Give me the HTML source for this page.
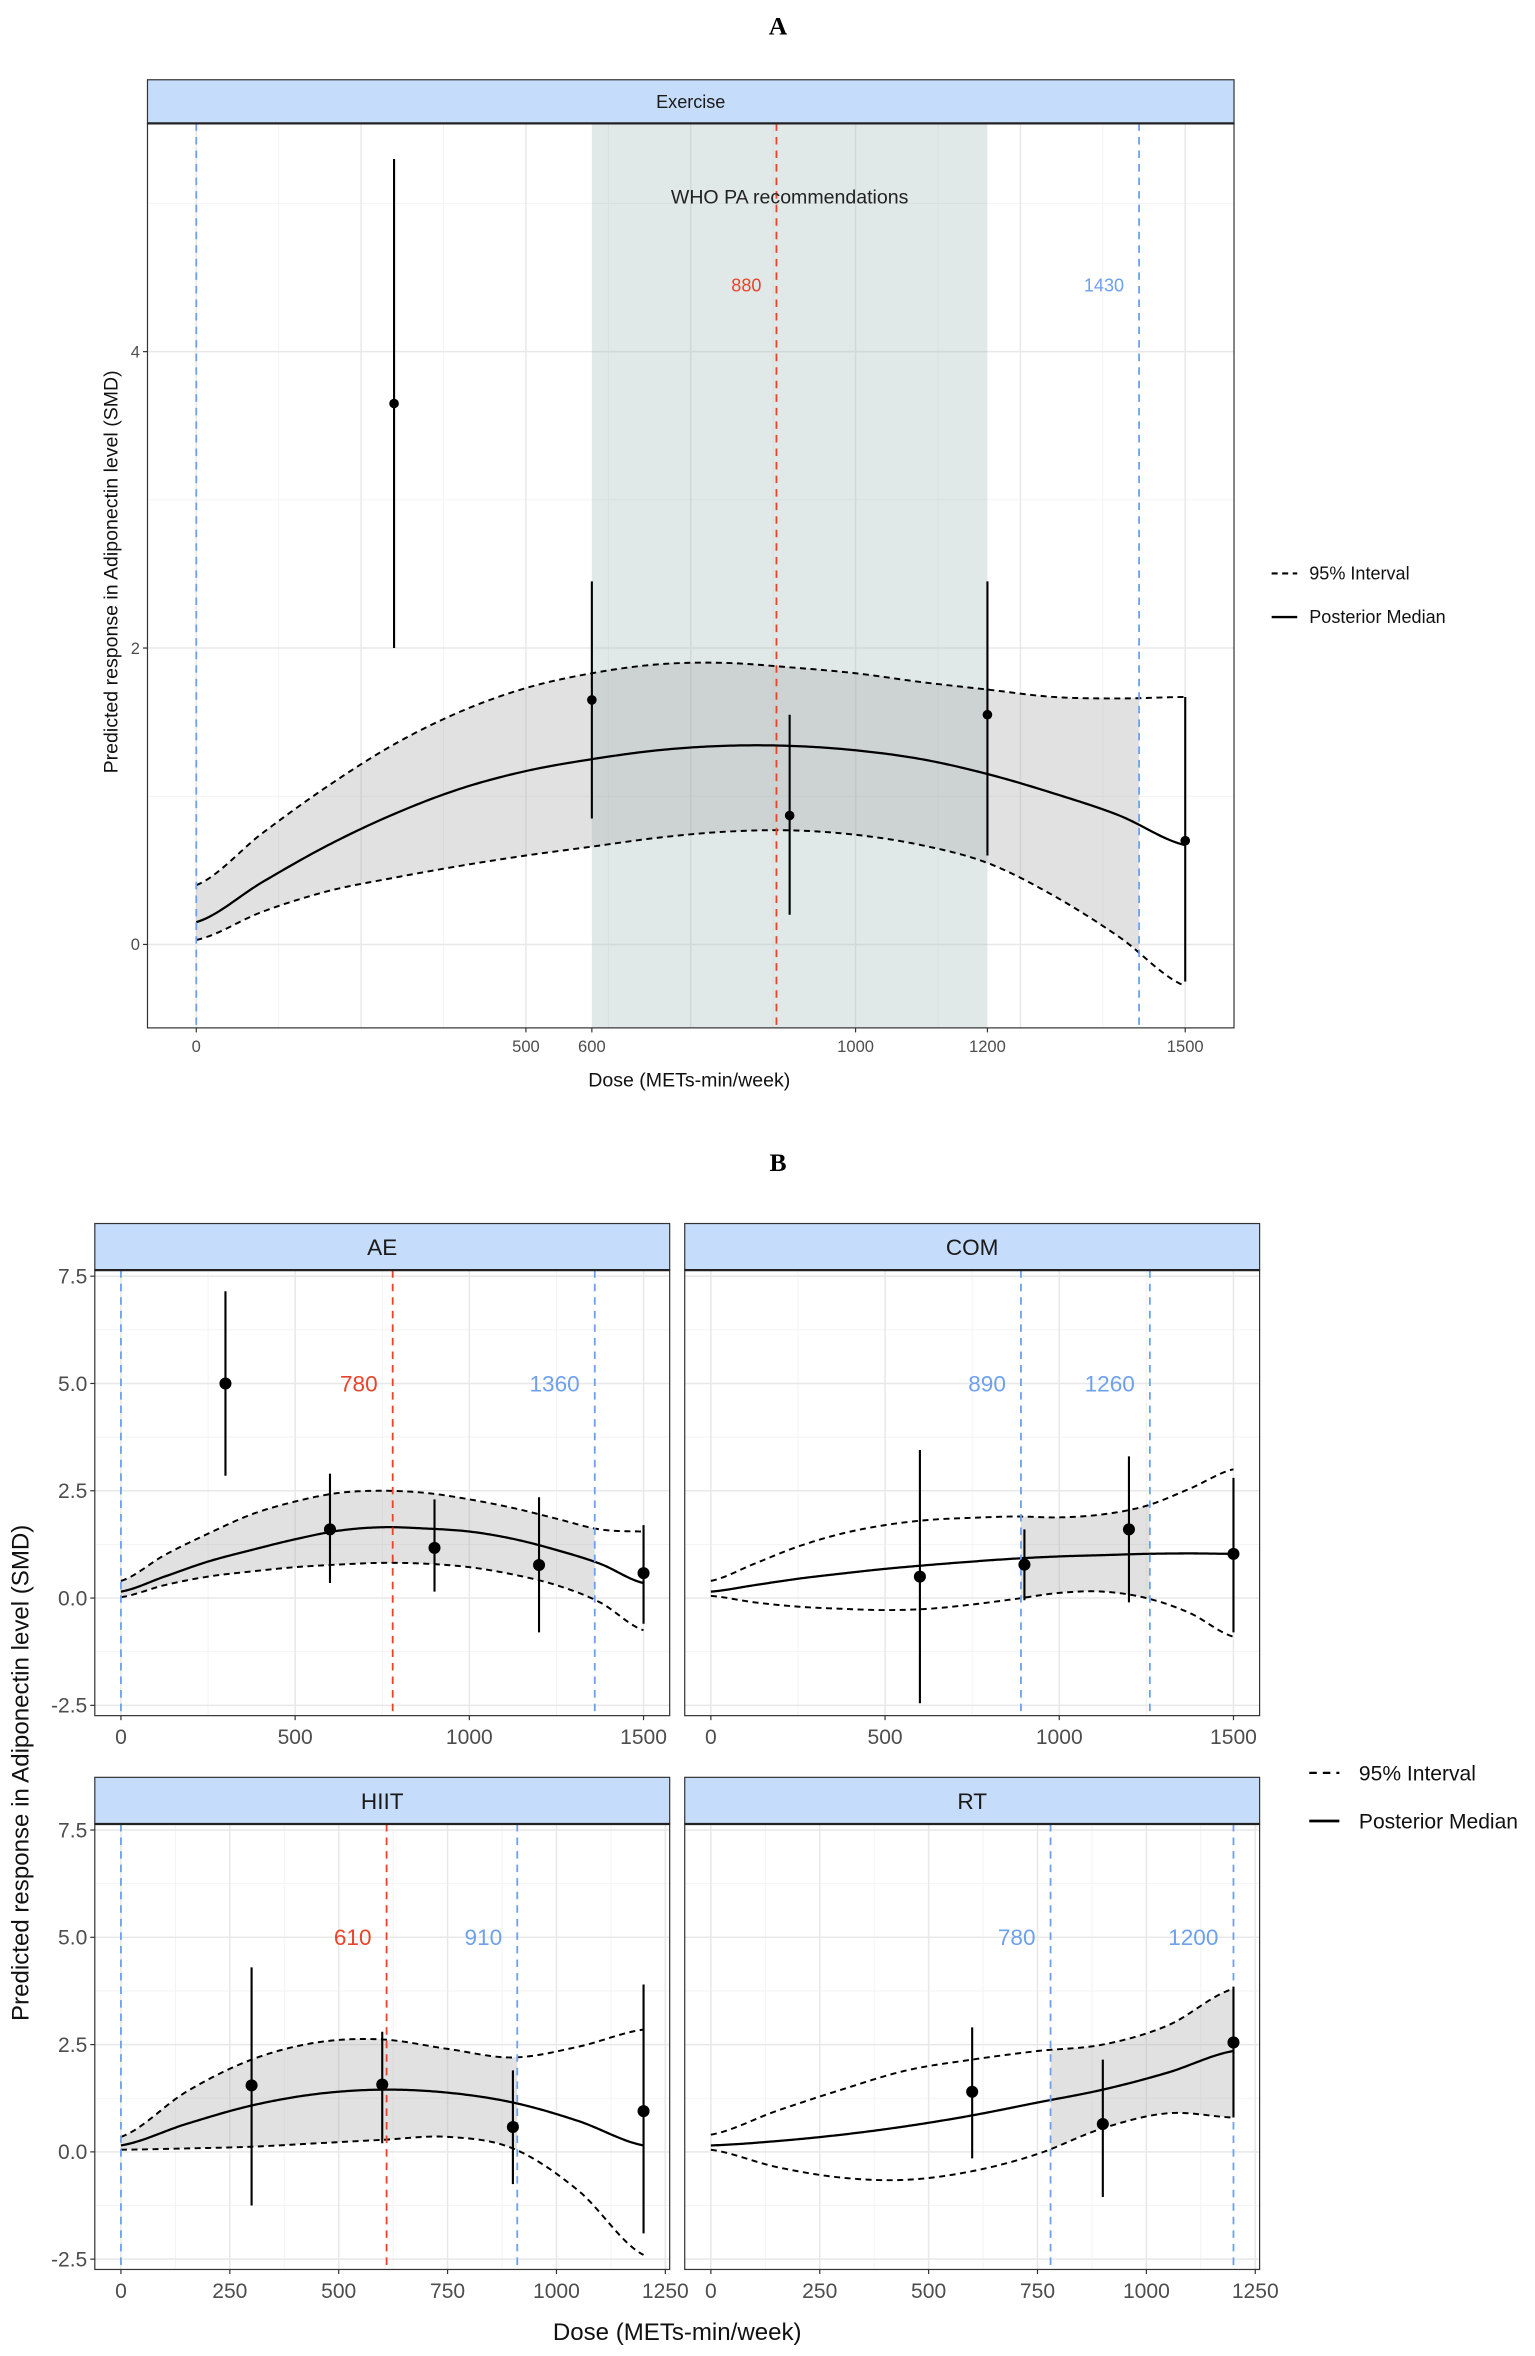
<!DOCTYPE html>
<html><head><meta charset="utf-8"><style>
html,body{margin:0;padding:0;background:#fff;}
svg{display:block;font-family:"Liberation Sans",sans-serif;}
</style></head><body>
<svg id="chart" width="1535" height="2356" viewBox="0 0 1020 1565.5" preserveAspectRatio="none" xmlns="http://www.w3.org/2000/svg"></svg>
<script>
// ===== Panel A (Exercise) data =====
const aKnots = [0,100,200,300,400,500,600,700,800,900,1000,1100,1200,1300,1400,1500];
const aMedian = [0.15,0.42,0.67,0.88,1.05,1.17,1.25,1.31,1.34,1.34,1.31,1.25,1.15,1.02,0.87,0.67];
const aUpper = [0.40,0.75,1.07,1.35,1.57,1.73,1.83,1.89,1.90,1.87,1.83,1.77,1.72,1.67,1.66,1.67];
const aLower = [0.03,0.22,0.36,0.45,0.53,0.60,0.66,0.72,0.76,0.77,0.74,0.67,0.55,0.33,0.05,-0.28];
const aPtDose = [300,600,900,1200,1500];
const aPtY = [3.65,1.65,0.87,1.55,0.70];
const aPtLo = [2.0,0.85,0.2,0.6,-0.25];
const aPtHi = [5.3,2.45,1.55,2.45,1.67];
const aXTicks = [0,500,600,1000,1200,1500];
const aYTicks = [0,2,4];

// ===== Panel B data =====
const aeKnots = [0,125,250,375,500,625,750,875,1000,1125,1250,1375,1500];
const aeMedian = [0.15,0.5,0.85,1.12,1.37,1.57,1.65,1.62,1.55,1.38,1.12,0.8,0.35];
const aeUpper = [0.4,1.0,1.5,1.95,2.25,2.45,2.5,2.45,2.3,2.1,1.85,1.6,1.55];
const aeLower = [0.02,0.3,0.5,0.62,0.72,0.78,0.82,0.8,0.72,0.55,0.3,-0.1,-0.75];
const aePtDose = [300,600,900,1200,1500];
const aePtY = [5.0,1.6,1.17,0.77,0.58];
const aePtLo = [2.85,0.35,0.15,-0.8,-0.6];
const aePtHi = [7.15,2.9,2.3,2.35,1.7];

const comKnots = [0,125,250,375,500,625,750,875,1000,1125,1250,1375,1500];
const comMedian = [0.15,0.3,0.45,0.57,0.68,0.77,0.85,0.92,0.97,1.0,1.03,1.04,1.03];
const comUpper = [0.4,0.8,1.2,1.5,1.7,1.82,1.87,1.9,1.88,1.95,2.15,2.55,3.0];
const comLower = [0.05,-0.1,-0.2,-0.25,-0.28,-0.25,-0.15,-0.02,0.12,0.15,0.0,-0.35,-0.9];
const comPtDose = [600,900,1200,1500];
const comPtY = [0.5,0.78,1.6,1.03];
const comPtLo = [-2.45,-0.05,-0.1,-0.8];
const comPtHi = [3.45,1.6,3.3,2.8];

const hiitKnots = [0,150,300,450,600,750,900,1050,1200];
const hiitMedian = [0.15,0.65,1.08,1.35,1.45,1.38,1.15,0.72,0.15];
const hiitUpper = [0.35,1.4,2.15,2.55,2.62,2.4,2.2,2.45,2.85];
const hiitLower = [0.05,0.08,0.12,0.2,0.28,0.35,0.08,-0.9,-2.4];
const hiitPtDose = [300,600,900,1200];
const hiitPtY = [1.55,1.57,0.58,0.95];
const hiitPtLo = [-1.25,0.2,-0.75,-1.9];
const hiitPtHi = [4.3,2.8,1.9,3.9];

const rtKnots = [0,150,300,450,600,750,900,1050,1200];
const rtMedian = [0.15,0.25,0.4,0.6,0.85,1.15,1.45,1.85,2.35];
const rtUpper = [0.4,0.95,1.45,1.9,2.15,2.35,2.5,2.95,3.8];
const rtLower = [0.05,-0.35,-0.6,-0.65,-0.45,-0.05,0.55,0.9,0.8];
const rtPtDose = [600,900,1200];
const rtPtY = [1.4,0.65,2.55];
const rtPtLo = [-0.15,-1.05,0.8];
const rtPtHi = [2.9,2.15,3.85];

const bYTicks = [-2.5,0,2.5,5,7.5];
const bXTicks1500 = [0,500,1000,1500];
const bXTicks1250 = [0,250,500,750,1000,1250];

const svg = document.getElementById('chart');
const NS = 'http://www.w3.org/2000/svg';
function el(tag, attrs, parent){
  const e = document.createElementNS(NS, tag);
  for (const k in attrs) e.setAttribute(k, attrs[k]);
  (parent||svg).appendChild(e);
  return e;
}
function txt(str, attrs, parent){ const t = el('text', attrs, parent); t.textContent = str; return t; }
function interp(knots, vals, x){
  if (x <= knots[0]) return vals[0];
  for (let i=1;i<knots.length;i++){
    if (x <= knots[i]){
      // Catmull-Rom smoothing
      const i0=Math.max(i-2,0), i1=i-1, i2=i, i3=Math.min(i+1,knots.length-1);
      const t=(x-knots[i1])/(knots[i2]-knots[i1]);
      const p0=vals[i0],p1=vals[i1],p2=vals[i2],p3=vals[i3];
      const t2=t*t,t3=t2*t;
      return 0.5*((2*p1)+(-p0+p2)*t+(2*p0-5*p1+4*p2-p3)*t2+(-p0+3*p1-3*p2+p3)*t3);
    }
  }
  return vals[vals.length-1];
}
function curve(knots, vals, sx, sy, a, b){
  let d='';
  for (let x=a; x<=b+0.001; x+=5){ d += (d?'L':'M')+sx(x).toFixed(2)+','+sy(interp(knots,vals,x)).toFixed(2); }
  return d;
}

function panel(cfg){
  const {L,R,T,B,stripT,label,xmin,xmax,ymin,ymax,sizes} = cfg;
  const g = el('g',{});
  
  
  const sx = v => L + (v - xmin)/(xmax - xmin)*(R-L);
  const sy = v => B - (v - ymin)/(ymax - ymin)*(B-T);
  el('rect',{x:L,y:T,width:R-L,height:B-T,fill:'#fff'},g);
  // minor grid
  cfg.xMinor.forEach(v=>{ if(v>=xmin&&v<=xmax) el('line',{x1:sx(v),x2:sx(v),y1:T,y2:B,stroke:'#f2f2f2','stroke-width':0.6},g); });
  cfg.yMinor.forEach(v=>{ if(v>=ymin&&v<=ymax) el('line',{x1:L,x2:R,y1:sy(v),y2:sy(v),stroke:'#f2f2f2','stroke-width':0.6},g); });
  cfg.xGrid.forEach(v=>el('line',{x1:sx(v),x2:sx(v),y1:T,y2:B,stroke:'#e8e8e8','stroke-width':1},g));
  cfg.yTicks.forEach(v=>el('line',{x1:L,x2:R,y1:sy(v),y2:sy(v),stroke:'#e8e8e8','stroke-width':1},g));
  // WHO band
  if (cfg.band){
    const r = el('rect',{x:sx(cfg.band[0]),y:T,width:sx(cfg.band[1])-sx(cfg.band[0]),height:B-T,fill:'#9fb6b9','fill-opacity':0.32},g);
    
    
  }
  // ribbon fill
  const [fa,fb] = cfg.fill;
  let dU = curve(cfg.knots,cfg.upper,sx,sy,fa,fb);
  let dl=''; for (let x=fb; x>=fa-0.001; x-=5){ dl+='L'+sx(x).toFixed(2)+','+sy(interp(cfg.knots,cfg.lower,x)).toFixed(2); }
  const rib = el('path',{d:dU+dl+'Z',fill:'#a9a9a9','fill-opacity':0.35},g);
  
  
  const kmax = cfg.knots[cfg.knots.length-1];
  const up = el('path',{d:curve(cfg.knots,cfg.upper,sx,sy,0,kmax),fill:'none',stroke:'#000','stroke-width':sizes.lw,'stroke-dasharray':'4,3'},g);
  
  
  const lo = el('path',{d:curve(cfg.knots,cfg.lower,sx,sy,0,kmax),fill:'none',stroke:'#000','stroke-width':sizes.lw,'stroke-dasharray':'4,3'},g);
  
  
  const md = el('path',{d:curve(cfg.knots,cfg.median,sx,sy,0,kmax),fill:'none',stroke:'#000','stroke-width':sizes.lw+0.2},g);
  
  
  // vertical ref lines
  cfg.vlines.forEach(v=>{
    const ln = el('line',{x1:sx(v.x),x2:sx(v.x),y1:T,y2:B,stroke:v.c,'stroke-width':1.2,'stroke-dasharray':'5,4'},g);
    
    
    if (v.label){
      const t = txt(String(v.x),{x:sx(v.x)-sizes.lblOff,y:sy(v.ly)+sizes.lbl*0.35,'text-anchor':'end','font-size':sizes.lbl,fill:v.c},g);
      
      
    }
  });
  // points
  cfg.pDose.forEach((d,i)=>{
    const e = el('line',{x1:sx(d),x2:sx(d),y1:sy(cfg.pLo[i]),y2:sy(cfg.pHi[i]),stroke:'#000','stroke-width':1.4},g);
    
    
    const c = el('circle',{cx:sx(d),cy:sy(cfg.pY[i]),r:sizes.pt,fill:'#000'},g);
    
    
  });
  if (cfg.text){
    const t = txt(cfg.text.s,{x:sx(cfg.text.x),y:sy(cfg.text.y)+5,'text-anchor':'middle','font-size':sizes.tick+2,fill:'#222'},g);
    
    
  }
  el('rect',{x:L,y:T,width:R-L,height:B-T,fill:'none',stroke:'#333','stroke-width':0.8},g);
  // strip
  const st = el('rect',{x:L,y:stripT,width:R-L,height:T-stripT,fill:'#c6dcfb',stroke:'#333','stroke-width':0.8},g);
  
  
  el('line',{x1:L,x2:R,y1:T,y2:T,stroke:'#222','stroke-width':1.5},g);
  const sl = txt(label,{x:(L+R)/2,y:(stripT+T)/2+sizes.strip*0.36,'text-anchor':'middle','font-size':sizes.strip,fill:'#1a1a1a'},g);
  
  
  // ticks
  cfg.xTicks.forEach(v=>{
    el('line',{x1:sx(v),x2:sx(v),y1:B,y2:B+3,stroke:'#333','stroke-width':0.8},g);
    const t = txt(String(v),{x:sx(v),y:B+5+sizes.tick,'text-anchor':'middle','font-size':sizes.tick,fill:'#4d4d4d'},g);
    
    
  });
  if (cfg.showY) cfg.yTicks.forEach(v=>{
    el('line',{x1:L-3,x2:L,y1:sy(v),y2:sy(v),stroke:'#333','stroke-width':0.8},g);
    const t = txt(cfg.yFmt(v),{x:L-5,y:sy(v)+sizes.tick*0.35,'text-anchor':'end','font-size':sizes.tick,fill:'#4d4d4d'},g);
    
    
  });
}

const blue = '#6ea0ee', red = '#e8442c';
const sizesA = {lw:1.3,pt:3.2,tick:11,lbl:12,lblOff:10,strip:12};
const sizesB = {lw:1.3,pt:4,tick:14,lbl:15,lblOff:10,strip:15};

// Title A
txt('A',{x:517,y:23,'text-anchor':'middle','font-size':17,'font-weight':'bold','font-family':'Liberation Serif, serif'});
panel({name:'panel-exercise',L:98,R:820,T:82,B:683,stripT:53,label:'Exercise',
  xmin:-74,xmax:1574,ymin:-0.563,ymax:5.54,sizes:sizesA,
  xGrid:[0,250,500,750,1000,1250,1500],xMinor:[125,375,625,875,1125,1375],yMinor:[1,3,5],yTicks:aYTicks,xTicks:aXTicks,showY:true,yFmt:v=>String(v),
  band:[600,1200],fill:[0,1430],knots:aKnots,median:aMedian,upper:aUpper,lower:aLower,
  pDose:aPtDose,pY:aPtY,pLo:aPtLo,pHi:aPtHi,
  vlines:[{x:0,c:blue},{x:1430,c:blue,label:true,ly:4.45},{x:880,c:red,label:true,ly:4.45}],
  text:{s:'WHO PA recommendations',x:900,y:5.05}});
txt('Dose (METs-min/week)',{x:458,y:722,'text-anchor':'middle','font-size':13,fill:'#111'});
txt('Predicted response in Adiponectin level (SMD)',{x:0,y:0,transform:'translate(78,380) rotate(-90)','text-anchor':'middle','font-size':13,fill:'#111'});
// legend A
el('line',{x1:845,x2:862,y1:381,y2:381,stroke:'#000','stroke-width':1.4,'stroke-dasharray':'4,3'});
txt('95% Interval',{x:870,y:385,'font-size':12,fill:'#111'});
el('line',{x1:845,x2:862,y1:410,y2:410,stroke:'#000','stroke-width':1.6});
txt('Posterior Median',{x:870,y:414,'font-size':12,fill:'#111'});

// Title B
txt('B',{x:517,y:778,'text-anchor':'middle','font-size':17,'font-weight':'bold','font-family':'Liberation Serif, serif'});
const yB = {ymin:-2.74,ymax:7.64};
const fmtB = v=>v.toFixed(1);
panel({name:'panel-ae',L:63,R:445,T:844,B:1140,stripT:813,label:'AE',xmin:-75,xmax:1575,...yB,sizes:sizesB,
  xGrid:[0,500,1000,1500],xMinor:[250,750,1250],yMinor:[-1.25,1.25,3.75,6.25],yTicks:bYTicks,xTicks:bXTicks1500,showY:true,yFmt:fmtB,
  fill:[0,1360],knots:aeKnots,median:aeMedian,upper:aeUpper,lower:aeLower,pDose:aePtDose,pY:aePtY,pLo:aePtLo,pHi:aePtHi,
  vlines:[{x:0,c:blue},{x:1360,c:blue,label:true,ly:5},{x:780,c:red,label:true,ly:5}]});
panel({name:'panel-com',L:455,R:837,T:844,B:1140,stripT:813,label:'COM',xmin:-75,xmax:1575,...yB,sizes:sizesB,
  xGrid:[0,500,1000,1500],xMinor:[250,750,1250],yMinor:[-1.25,1.25,3.75,6.25],yTicks:bYTicks,xTicks:bXTicks1500,showY:false,yFmt:fmtB,
  fill:[890,1260],knots:comKnots,median:comMedian,upper:comUpper,lower:comLower,pDose:comPtDose,pY:comPtY,pLo:comPtLo,pHi:comPtHi,
  vlines:[{x:890,c:blue,label:true,ly:5},{x:1260,c:blue,label:true,ly:5}]});
panel({name:'panel-hiit',L:63,R:445,T:1212,B:1508,stripT:1181,label:'HIIT',xmin:-60,xmax:1260,...yB,sizes:sizesB,
  xGrid:bXTicks1250,xMinor:[125,375,625,875,1125],yMinor:[-1.25,1.25,3.75,6.25],yTicks:bYTicks,xTicks:bXTicks1250,showY:true,yFmt:fmtB,
  fill:[0,910],knots:hiitKnots,median:hiitMedian,upper:hiitUpper,lower:hiitLower,pDose:hiitPtDose,pY:hiitPtY,pLo:hiitPtLo,pHi:hiitPtHi,
  vlines:[{x:0,c:blue},{x:910,c:blue,label:true,ly:5},{x:610,c:red,label:true,ly:5}]});
panel({name:'panel-rt',L:455,R:837,T:1212,B:1508,stripT:1181,label:'RT',xmin:-60,xmax:1260,...yB,sizes:sizesB,
  xGrid:bXTicks1250,xMinor:[125,375,625,875,1125],yMinor:[-1.25,1.25,3.75,6.25],yTicks:bYTicks,xTicks:bXTicks1250,showY:false,yFmt:fmtB,
  fill:[780,1200],knots:rtKnots,median:rtMedian,upper:rtUpper,lower:rtLower,pDose:rtPtDose,pY:rtPtY,pLo:rtPtLo,pHi:rtPtHi,
  vlines:[{x:780,c:blue,label:true,ly:5},{x:1200,c:blue,label:true,ly:5}]});
txt('Dose (METs-min/week)',{x:450,y:1555,'text-anchor':'middle','font-size':16,fill:'#111'});
txt('Predicted response in Adiponectin level (SMD)',{x:0,y:0,transform:'translate(19,1178) rotate(-90)','text-anchor':'middle','font-size':16,fill:'#111'});
el('line',{x1:870,x2:890,y1:1178,y2:1178,stroke:'#000','stroke-width':1.5,'stroke-dasharray':'5,4'});
txt('95% Interval',{x:903,y:1183,'font-size':14,fill:'#111'});
el('line',{x1:870,x2:890,y1:1210,y2:1210,stroke:'#000','stroke-width':1.8});
txt('Posterior Median',{x:903,y:1215,'font-size':14,fill:'#111'});
</script>
</body></html>
